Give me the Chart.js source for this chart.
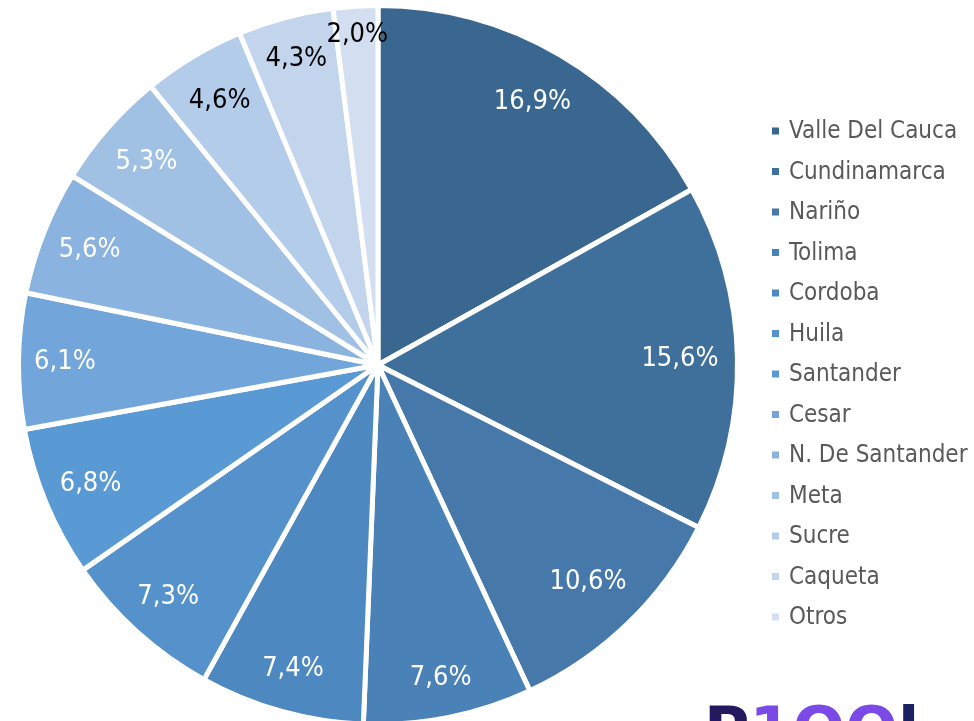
<!DOCTYPE html>
<html>
<head>
<meta charset="utf-8">
<script src="https://cdn.jsdelivr.net/npm/chart.js@4"></script>
<style>
  html, body { margin: 0; padding: 0; background: #fff; overflow: hidden; }
  #wrap { position: relative; width: 974px; height: 721px; overflow: hidden; }
  #c { position: absolute; left: 0; top: 0; }
  #logo { position: absolute; left: 704px; top: 699px; font-family: "DejaVu Sans", sans-serif; font-weight: bold; font-size: 62px; line-height: 62px; white-space: nowrap; }
</style>
</head>
<body>
<div id="wrap">
  <canvas id="c" width="974" height="727"></canvas>
  <div id="logo"><span style="color:#24185E">P</span><span style="color:#7B4AE6">1OO</span><span style="color:#1B2160">l</span></div>
</div>
<script>
const categories = ["Valle Del Cauca","Cundinamarca","Nariño","Tolima","Cordoba","Huila","Santander","Cesar","N. De Santander","Meta","Sucre","Caqueta","Otros"];
const shares = [16.9, 15.6, 10.6, 7.6, 7.4, 7.3, 6.8, 6.1, 5.6, 5.3, 4.6, 4.3, 2.0];
const valueLabels = ["16,9%","15,6%","10,6%","7,6%","7,4%","7,3%","6,8%","6,1%","5,6%","5,3%","4,6%","4,3%","2,0%"];
const sliceColors = ["#3A6790","#3F6F9B","#4679A9","#4A81B6","#4E88C0","#5591CA","#5A9AD4","#72A6DA","#8BB3DF","#A0C0E4","#B3CCE9","#C3D5EC","#D3DFF1"];
const labelColors = ["#fff","#fff","#fff","#fff","#fff","#fff","#fff","#fff","#fff","#fff","#000","#000","#000"];
// style: how far out (fraction of radius) each slice label sits
const labelRadiusFrac = [0.855, 0.846, 0.846, 0.893, 0.883, 0.877, 0.872, 0.877, 0.869, 0.863, 0.863, 0.888, 0.925];

const FONT = '"DejaVu Sans Condensed", "DejaVu Sans", sans-serif';

const sliceLabels = {
  id: 'sliceLabels',
  afterDatasetsDraw(chart) {
    const ctx = chart.ctx;
    const meta = chart.getDatasetMeta(0);
    ctx.save();
    ctx.font = '27px ' + FONT;
    ctx.textAlign = 'center';
    ctx.textBaseline = 'middle';
    meta.data.forEach((arc, i) => {
      const mid = (arc.startAngle + arc.endAngle) / 2;
      const r = (arc.outerRadius - 2.5) * labelRadiusFrac[i];
      const x = arc.x + Math.cos(mid) * r;
      const y = arc.y + Math.sin(mid) * r;
      ctx.fillStyle = labelColors[i];
      ctx.fillText(valueLabels[i], x, y);
    });
    ctx.restore();
  }
};

const sideLegend = {
  id: 'sideLegend',
  afterDraw(chart) {
    const ctx = chart.ctx;
    ctx.save();
    ctx.font = '24px ' + FONT;
    ctx.textAlign = 'left';
    ctx.textBaseline = 'middle';
    const x0 = 772, y0 = 131, step = 40.5;
    categories.forEach((name, i) => {
      const y = y0 + i * step;
      ctx.fillStyle = sliceColors[i];
      ctx.fillRect(x0, y - 3.5, 7, 7);
      ctx.fillStyle = '#595959';
      ctx.fillText(name, x0 + 17, y + 1);
    });
    ctx.restore();
  }
};

new Chart(document.getElementById('c'), {
  type: 'pie',
  data: {
    labels: categories,
    datasets: [{
      data: shares,
      backgroundColor: sliceColors,
      borderColor: '#ffffff',
      borderWidth: 5
    }]
  },
  options: {
    responsive: false,
    animation: false,
    layout: { padding: { left: 16, right: 234, top: 3, bottom: 0 } },
    plugins: {
      legend: { display: false },
      tooltip: { enabled: false }
    }
  },
  plugins: [sliceLabels, sideLegend]
});
</script>
</body>
</html>
